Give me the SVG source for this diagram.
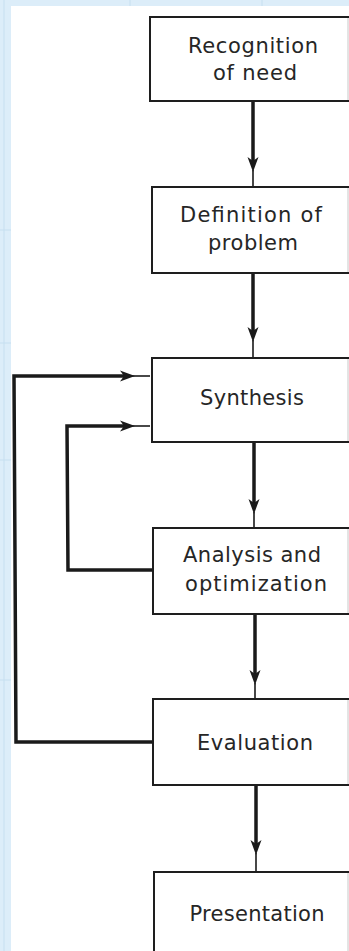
<svg xmlns="http://www.w3.org/2000/svg" xmlns:xlink="http://www.w3.org/1999/xlink" width="349" height="951" viewBox="0 0 349 951">
  <style>
    .box { fill: #ffffff; stroke: #1e1e1e; stroke-width: 2; }
    .edge { stroke: #c8c8c8; stroke-width: 1; }
    .label { font-family: "DejaVu Sans", "Open Sans", sans-serif; font-size: 21px; fill: #262626; text-anchor: middle; }
    .flow { fill: none; stroke: #1a1a1a; stroke-width: 3.5; stroke-linejoin: miter; }
    .tail { fill: none; stroke: #1a1a1a; stroke-width: 1.6; }
    .head { fill: #1a1a1a; }
    .grid { stroke: #c6dff0; stroke-width: 1; }
  </style>
  <defs>
    <!-- arrowhead pointing right, tip at origin -->
    <path id="arrowhead" class="head" d="M0,0 L-15,-5.5 L-11,0 L-15,5.5 Z"/>
  </defs>

  <!-- page background with ruled margin -->
  <rect x="0" y="0" width="349" height="951" fill="#dcedf9"/>
  <line class="grid" x1="4" y1="0" x2="4" y2="951"/>
  <line class="grid" x1="0" y1="230" x2="11" y2="230"/>
  <line class="grid" x1="0" y1="343" x2="11" y2="343"/>
  <line class="grid" x1="0" y1="460" x2="11" y2="460"/>
  <line class="grid" x1="0" y1="680" x2="11" y2="680"/>
  <line class="grid" x1="130" y1="0" x2="130" y2="6"/>
  <line class="grid" x1="262" y1="0" x2="262" y2="6"/>
  <rect x="11" y="6" width="338" height="945" fill="#ffffff"/>

  <g id="connectors">
    <!-- forward flow: heavy shaft, arrowhead, light lead-in to the next box -->
    <path class="flow" d="M253,101 V162"/>
    <path class="tail" d="M253,170 V187"/>
    <use xlink:href="#arrowhead" transform="translate(253,172) rotate(90)"/>
    <path class="flow" d="M253,273 V332"/>
    <path class="tail" d="M253,340 V358"/>
    <use xlink:href="#arrowhead" transform="translate(253,342) rotate(90)"/>
    <path class="flow" d="M254,442 V504"/>
    <path class="tail" d="M254,512 V528"/>
    <use xlink:href="#arrowhead" transform="translate(254,514) rotate(90)"/>
    <path class="flow" d="M255,614 V675"/>
    <path class="tail" d="M255,683 V699"/>
    <use xlink:href="#arrowhead" transform="translate(255,685) rotate(90)"/>
    <path class="flow" d="M256,785 V845"/>
    <path class="tail" d="M256,853 V872"/>
    <use xlink:href="#arrowhead" transform="translate(256,855) rotate(90)"/>
    <!-- feedback from evaluation -->
    <path class="flow" d="M153,742 H16 L14,376 H124"/>
    <path class="tail" d="M132,376 H150"/>
    <use xlink:href="#arrowhead" transform="translate(135,376)"/>
    <!-- feedback from analysis -->
    <path class="flow" d="M153,570 H68 L67,426 H124"/>
    <path class="tail" d="M132,426 H150"/>
    <use xlink:href="#arrowhead" transform="translate(135,426)"/>
  </g>

  <g id="recognition">
    <rect class="box" x="150" y="17" width="220" height="84"/>
    <line class="edge" x1="348" y1="18" x2="348" y2="100"/>
    <text class="label" x="253" y="53" textLength="130" lengthAdjust="spacing">Recognition</text>
    <text class="label" x="255" y="80" textLength="84" lengthAdjust="spacing">of need</text>
  </g>

  <g id="definition">
    <rect class="box" x="152" y="187" width="220" height="86"/>
    <line class="edge" x1="348" y1="188" x2="348" y2="272"/>
    <text class="label" x="251" y="222" textLength="142" lengthAdjust="spacing">Definition of</text>
    <text class="label" x="253" y="250" textLength="90" lengthAdjust="spacing">problem</text>
  </g>

  <g id="synthesis">
    <rect class="box" x="152" y="358" width="220" height="84"/>
    <line class="edge" x1="348" y1="359" x2="348" y2="441"/>
    <text class="label" x="252" y="405" textLength="104" lengthAdjust="spacing">Synthesis</text>
  </g>

  <g id="analysis">
    <rect class="box" x="153" y="528" width="220" height="86"/>
    <line class="edge" x1="348" y1="529" x2="348" y2="613"/>
    <text class="label" x="252" y="562" textLength="138" lengthAdjust="spacing">Analysis and</text>
    <text class="label" x="256" y="591" textLength="142" lengthAdjust="spacing">optimization</text>
  </g>

  <g id="evaluation">
    <rect class="box" x="153" y="699" width="220" height="86"/>
    <line class="edge" x1="348" y1="700" x2="348" y2="784"/>
    <text class="label" x="255" y="750" textLength="116" lengthAdjust="spacing">Evaluation</text>
  </g>

  <g id="presentation">
    <rect class="box" x="154" y="872" width="220" height="100"/>
    <line class="edge" x1="348" y1="873" x2="348" y2="951"/>
    <text class="label" x="257" y="921" textLength="135" lengthAdjust="spacing">Presentation</text>
  </g>
</svg>
